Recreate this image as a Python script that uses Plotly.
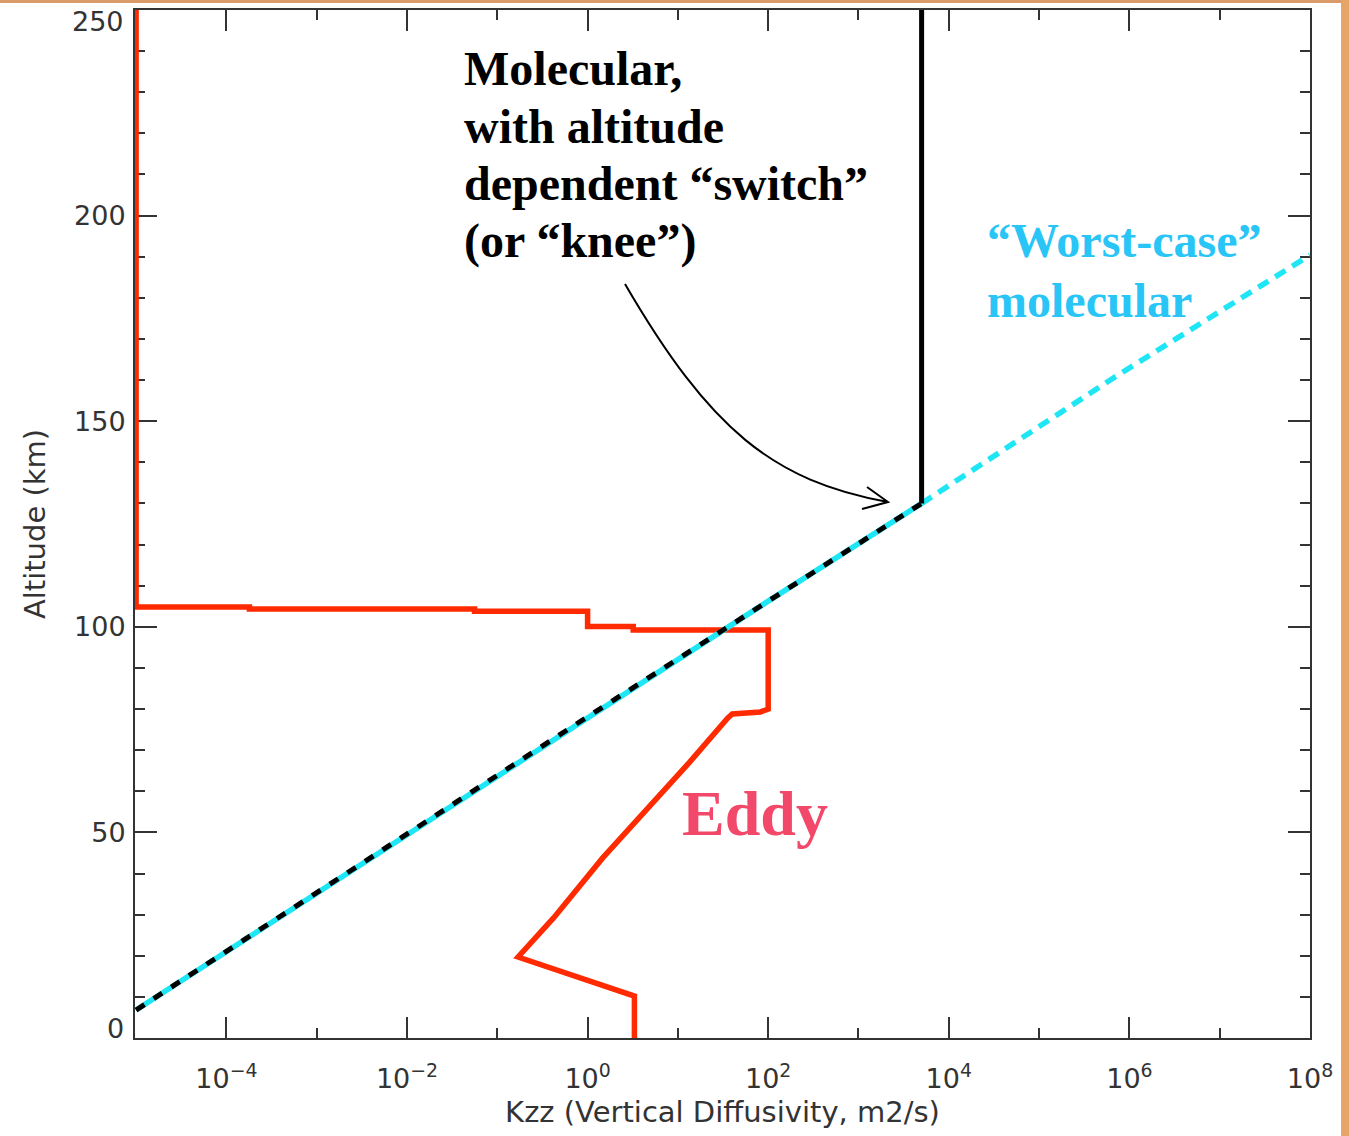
import plotly.graph_objects as go

# ---------------- data ----------------
# "Worst-case" molecular diffusivity profile
alt_mol = [6.8, 49.4, 76.1, 106.3, 130.0, 160.8, 190.4]
k_mol = [1.0e-5, 9.84e-3, 0.719, 101, 5.0e3, 6.97e5, 1.0e8]

# Molecular with altitude dependent switch (knee)
knee_alt = 130.0
knee_k = 5.0e3
alt_top = 250.0

# Eddy diffusivity profile
alt_eddy = [0, 10.2, 19.7, 29.2, 43.8, 54.0, 67.1, 77.8, 78.8, 79.3, 80.0,
            99.2, 99.2, 100.1, 100.1, 103.8, 103.8, 104.3, 104.3, 104.8, 104.8, 250]
k_eddy = [3.3, 3.3, 0.17, 0.42, 1.47, 3.87, 13.5, 35.5, 40, 82, 100,
          100, 3.2, 3.2, 1.0, 1.0, 0.056, 0.056, 1.8e-4, 1.8e-4, 1e-5, 1e-5]

x_tickvals = [1e-4, 1e-2, 1e0, 1e2, 1e4, 1e6, 1e8]
x_ticktext = ["10<sup>\u22124</sup>", "10<sup>\u22122</sup>", "10<sup>0</sup>",
              "10<sup>2</sup>", "10<sup>4</sup>", "10<sup>6</sup>", "10<sup>8</sup>"]
x_minorvals = [1e-3, 1e-1, 1e1, 1e3, 1e5, 1e7]
y_tickvals = [0, 50, 100, 150, 200, 250]
y_ticktext = ["0", "50", "100", "150", "200", "250"]

# ---------------- figure ----------------
RED = "#FF2A00"
CYAN = "#1FE6F5"

below = [(a, k) for a, k in zip(alt_mol, k_mol) if a <= knee_alt]
above = [(a, k) for a, k in zip(alt_mol, k_mol) if a >= knee_alt]

fig = go.Figure()
fig.add_trace(go.Scatter(x=k_eddy, y=alt_eddy, mode="lines",
                         line=dict(color=RED, width=5.5), showlegend=False))
fig.add_trace(go.Scatter(x=[k for a, k in above], y=[a for a, k in above], mode="lines",
                         line=dict(color=CYAN, width=5.5, dash="12px,8px"), showlegend=False))
fig.add_trace(go.Scatter(x=[k for a, k in below], y=[a for a, k in below], mode="lines",
                         line=dict(color=CYAN, width=5.5), showlegend=False))
fig.add_trace(go.Scatter(x=[k for a, k in below], y=[a for a, k in below], mode="lines",
                         line=dict(color="black", width=5, dash="10px,11px"), showlegend=False))
fig.add_trace(go.Scatter(x=[knee_k, knee_k], y=[knee_alt, alt_top], mode="lines",
                         line=dict(color="black", width=5), showlegend=False))

L, R, T, B = 135, 39, 10, 98
PW, PH = 1349 - L - R, 1136 - T - B


def px(x):
    return (x - L) / PW


def py(y):
    return (T + PH - y) / PH


axis_font = dict(family="DejaVu Sans", size=27, color="#333333")
title_font = dict(family="DejaVu Sans", size=29, color="#333333")

# the end labels of the altitude axis are nudged inwards in the reference,
# so they are drawn as separate texts at their shifted places
y_axis_text = [t if v not in (y_tickvals[0], y_tickvals[-1]) else "" for v, t in zip(y_tickvals, y_ticktext)]

fig.update_layout(
    width=1349, height=1136,
    margin=dict(l=L, r=R, t=T, b=B, autoexpand=False),
    paper_bgcolor="white", plot_bgcolor="white",
    xaxis=dict(type="log", range=[-5.012, 8], tickmode="array", tickvals=x_tickvals,
               ticktext=x_ticktext, ticks="inside", ticklen=21, tickwidth=2,
               tickcolor="#333333", showline=True, linewidth=2, linecolor="#333333",
               mirror="allticks", showgrid=False, zeroline=False, tickfont=axis_font,
               layer="below traces", ticklabelstandoff=16, ticklabeloverflow="allow",
               automargin=False,
               minor=dict(tickmode="array", tickvals=x_minorvals, ticks="inside",
                          ticklen=10, tickwidth=2, tickcolor="#333333", showgrid=False),
               title=dict(text="Kzz (Vertical Diffusivity, m2/s)", font=title_font,
                          standoff=8)),
    yaxis=dict(range=[0, 250], tickmode="array", tickvals=y_tickvals, ticktext=y_axis_text,
               ticks="inside", ticklen=22, tickwidth=2, tickcolor="#333333",
               showline=True, linewidth=2, linecolor="#333333", mirror="allticks",
               showgrid=False, zeroline=False, tickfont=axis_font, layer="below traces",
               ticklabeloverflow="allow", ticklabelstandoff=2, automargin=False,
               minor=dict(dtick=10, ticks="inside", ticklen=10, tickwidth=2,
                          tickcolor="#333333", showgrid=False),
               title=dict(text="Altitude (km)", font=title_font, standoff=20)),
)

# shifted end labels: "0" raised a little, "250" lowered below the frame top
for txt, cy in ((y_ticktext[0], 1028), (y_ticktext[-1], 22)):
    fig.add_annotation(x=px(126), y=py(cy), xref="paper", yref="paper", text=txt,
                       showarrow=False, xanchor="right", yanchor="middle",
                       font=axis_font)

serif = "Liberation Serif"
mol_lines = ["Molecular,", "with altitude", "dependent \u201cswitch\u201d", "(or \u201cknee\u201d)"]
mol_centers = [68, 126, 184, 241]
for txt, cy in zip(mol_lines, mol_centers):
    fig.add_annotation(x=px(462), y=py(cy), xref="paper", yref="paper", text=txt,
                       showarrow=False, xanchor="left", yanchor="middle",
                       font=dict(family=serif, size=48, color="black", weight="bold"))

wc_lines = ["\u201cWorst-case\u201d", "molecular"]
wc_centers = [241, 300]
for txt, cy in zip(wc_lines, wc_centers):
    fig.add_annotation(x=px(985), y=py(cy), xref="paper", yref="paper", text=txt,
                       showarrow=False, xanchor="left", yanchor="middle",
                       font=dict(family=serif, size=48, color="#29C5F6", weight="bold"))

fig.add_annotation(x=px(680), y=py(813), xref="paper", yref="paper", text="Eddy",
                   showarrow=False, xanchor="left", yanchor="middle",
                   font=dict(family=serif, size=64, color="#F2486A", weight="bold"))

# curved arrow
p0, c1, c2, p3 = (625, 284), (710, 430), (773, 481), (888, 502)
a1, a2 = (867, 487), (862, 509)
path = (f"M {px(p0[0])},{py(p0[1])} C {px(c1[0])},{py(c1[1])} {px(c2[0])},{py(c2[1])} "
        f"{px(p3[0])},{py(p3[1])} M {px(a1[0])},{py(a1[1])} L {px(p3[0])},{py(p3[1])} "
        f"L {px(a2[0])},{py(a2[1])}")
fig.add_shape(type="path", path=path, xref="paper", yref="paper",
              line=dict(color="black", width=2))

# orange frame pieces of the slide
fig.add_shape(type="rect", xref="paper", yref="paper", x0=px(0), x1=px(1349),
              y0=py(3), y1=py(0), fillcolor="#DB9B68", line=dict(width=0), layer="above")
fig.add_shape(type="rect", xref="paper", yref="paper", x0=px(1341), x1=px(1349),
              y0=py(1136), y1=py(0), fillcolor="#E6A469", line=dict(width=0), layer="above")

fig.write_html("out.html")
